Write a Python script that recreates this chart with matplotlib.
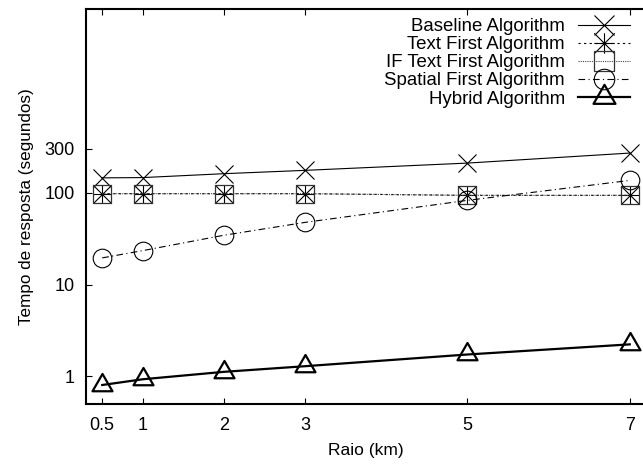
import numpy as np
import matplotlib
matplotlib.use("Agg")
import matplotlib.pyplot as plt
from matplotlib.path import Path

# raio (km)
raio = [0.5, 1, 2, 3, 5, 7]

# tempo de resposta (segundos)
baseline = [145, 146, 161, 175, 210, 270]
text_first = [97.5, 97.5, 97.5, 97.5, 93.5, 93.5]
if_text_first = [97.5, 97.5, 97.5, 97.5, 93.5, 93.5]
spatial_first = [19.5, 23.4, 34.4, 47.5, 82.5, 136]
hybrid = [0.805, 0.93, 1.12, 1.29, 1.73, 2.23]

xticks = [0.5, 1, 2, 3, 5, 7]
yticks = [1, 10, 100, 300]

plt.rcParams['font.family'] = ['Liberation Sans', 'DejaVu Sans']

fig = plt.figure(figsize=(6.43, 4.67), dpi=100)
W, H = 643, 467
# axes box in pixels: left 86, right 646 (off canvas), top 9, bottom 404
ax = fig.add_axes([86 / W, 1 - 404 / H, 560 / W, 395 / H])

# gnuplot-like point types
tri = Path([(-1, -0.577), (1, -0.577), (0, 1.155), (-1, -0.577)],
           [Path.MOVETO, Path.LINETO, Path.LINETO, Path.CLOSEPOLY])
star = Path([(-1, 0), (1, 0), (0, -1), (0, 1), (-1, -1), (1, 1), (-1, 1), (1, -1)],
            [Path.MOVETO, Path.LINETO] * 4)

ax.plot(raio, baseline, color='black', lw=0.8, marker='x', ms=13.4,
        mew=0.8, label='Baseline Algorithm')
ax.plot(raio, text_first, color='black', lw=0.8, ls=(0, (2, 3)),
        marker=star, ms=13.4, mew=0.8, label='Text First Algorithm')
ax.plot(raio, if_text_first, color='#444444', lw=0.8, ls=(0, (1, 1)),
        marker='s', ms=13.4, mew=0.9, mfc='none', mec='#333333',
        label='IF Text First Algorithm')
ax.plot(raio, spatial_first, color='black', lw=0.8, ls=(0, (6, 3, 1, 3)),
        marker='o', ms=13.4, mew=0.8, mfc='none', label='Spatial First Algorithm')
ax.plot(raio, hybrid, color='black', lw=1.6, marker=tri, ms=16.6,
        mew=1.6, mfc='none', label='Hybrid Algorithm')

ax.set_yscale('log')
ax.set_xlim(0.3, 7.2)
ax.set_ylim(0.5, 10000)
ax.set_xticks(xticks)
ax.set_xticklabels(['0.5', '1', '2', '3', '5', '7'])
ax.set_yticks(yticks)
ax.set_yticklabels(['1', '10', '100', '300'])
ax.yaxis.set_minor_locator(matplotlib.ticker.NullLocator())
ax.tick_params(axis='both', direction='in', length=4, width=0.8,
               top=True, right=False, labelsize=13)
ax.tick_params(axis='x', pad=9)
ax.tick_params(axis='y', pad=8)
for s in ax.spines.values():
    s.set_linewidth(1.5)

ax.set_xlabel('Raio (km)', fontsize=12.5, labelpad=7)
ax.set_ylabel('Tempo de resposta (segundos)', fontsize=12.3, labelpad=8)

ax.legend(loc='upper right', bbox_to_anchor=(630 / W, 1 - 18 / H),
          bbox_transform=fig.transFigure, frameon=False, markerfirst=False,
          fontsize=13.4, handlelength=2.8, handletextpad=0.7,
          labelspacing=0.06, borderpad=0, borderaxespad=0, markerscale=1.1)

fig.savefig('out.png', dpi=100)
